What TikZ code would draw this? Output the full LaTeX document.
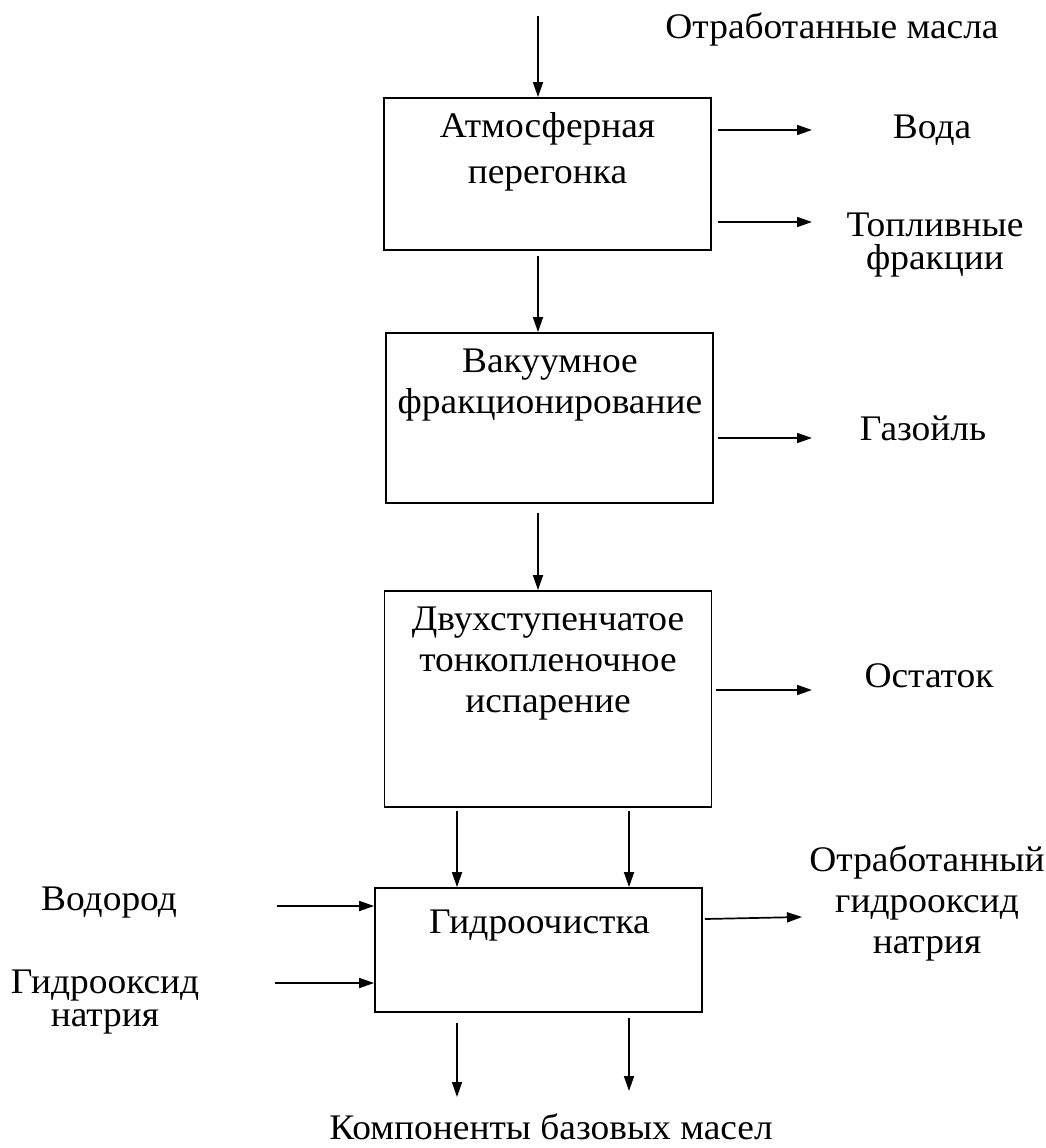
\documentclass[tikz,border=0pt]{standalone}
\usepackage{fontspec}
\setmainfont{Liberation Serif}[FakeStretch=1.04]
\usetikzlibrary{arrows.meta,calc}
\tikzset{
  stage/.style={draw,line width=1.8pt,minimum width=327pt,inner sep=0pt},
  txt/.style={align=center,font=\fontsize{36}{41}\selectfont,inner sep=0pt},
  flow/.style={-{Triangle[length=15pt,width=10pt]},line width=1.7pt},
}
\begin{document}
\begin{tikzpicture}[x=1pt,y=-1pt]
  \useasboundingbox (0,0) rectangle (1046,1148);
  % stages
  \node[stage,minimum height=152pt] (atm) at (547.5,174) {};
  \node[stage,minimum height=170pt] (vac) at (549.5,418) {};
  \node[stage,minimum height=216pt] (evap) at (548,699) {};
  \node[stage,minimum height=124pt] (hydro) at (538.5,950) {};
  \node[txt,anchor=base] (atmT) at (547.5,183) {Атмосферная\\[5pt]перегонка};
  \node[txt,anchor=base] (vacT) at (550,413) {Вакуумное\\фракционирование};
  \node[txt,anchor=base] (evapT) at (548,712) {Двухступенчатое\\тонкопленочное\\испарение};
  \node[txt,anchor=base] (hydroT) at (539.5,933) {Гидроочистка};
  % free ends
  \coordinate (feed) at (538,16);
  \coordinate (water) at (812,130);
  \coordinate (fuel) at (812,222);
  \coordinate (gasoil) at (812,438);
  \coordinate (resid) at (812,690);
  \coordinate (h2) at (277,906);
  \coordinate (naoh) at (275,983);
  \coordinate (spent) at (802,917);
  \coordinate (base1) at (457,1097);
  \coordinate (base2) at (629,1091);
  % labels
  \node[txt,anchor=base] (feedL) at (832,38) {Отработанные масла};
  \node[txt,anchor=base] (waterL) at (932,138) {Вода};
  \node[txt,anchor=base] (fuelL) at (935,269) {Топливные\\[-8pt]фракции};
  \node[txt,anchor=base] (gasoilL) at (923,440) {Газойль};
  \node[txt,anchor=base] (residL) at (929,687) {Остаток};
  \node[txt,anchor=base] (spentL) at (927,953) {Отработанный\\гидрооксид\\натрия};
  \node[txt,anchor=base] (h2L) at (109,910) {Водород};
  \node[txt,anchor=base] (naohL) at (105,1026) {Гидрооксид\\[-8pt]натрия};
  \node[txt,anchor=base] (baseL) at (551,1139) {Компоненты базовых масел};
  % flows
  \draw[flow] (feed) -- (feed |- atm.north);
  \draw[flow] (atm.south -| feed) ++(0,5) -- (feed |- vac.north);
  \draw[flow] (vac.south -| feed) ++(0,9) -- (feed |- evap.north);
  \draw[flow] (atm.east |- water) ++(6,0) -- (water);
  \draw[flow] (atm.east |- fuel) ++(6,0) -- (fuel);
  \draw[flow] (vac.east |- gasoil) ++(4,0) -- (gasoil);
  \draw[flow] (evap.east |- resid) ++(4,0) -- (resid);
  \draw[flow] (evap.south -| base1) ++(0,3) -- (base1 |- hydro.north);
  \draw[flow] (evap.south -| base2) ++(0,3) -- (base2 |- hydro.north);
  \draw[flow] (h2) -- (h2 -| hydro.west);
  \draw[flow] (naoh) -- (naoh -| hydro.west);
  \draw[flow] (hydro.east |- 0,919) ++(2,0) -- (spent);
  \draw[flow] (hydro.south -| base1) ++(0,10) -- (base1);
  \draw[flow] (hydro.south -| base2) ++(0,5) -- (base2);
\end{tikzpicture}
\end{document}
